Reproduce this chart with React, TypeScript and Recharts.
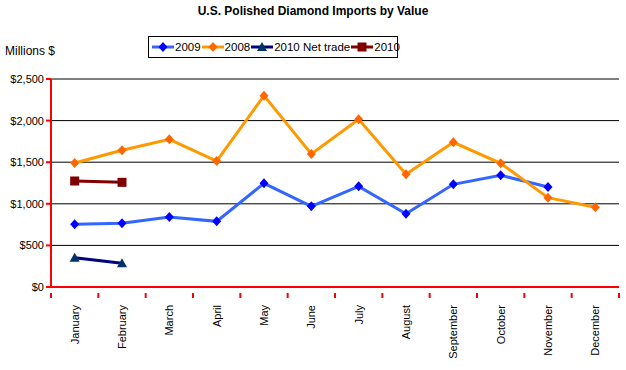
import React from "react";
import { LineChart, Line, XAxis, YAxis, CartesianGrid } from "recharts";

const months = [
  "January", "February", "March", "April", "May", "June",
  "July", "August", "September", "October", "November", "December",
];
const values2009 = [753, 765, 841, 789, 1246, 970, 1210, 881, 1234, 1342, 1202, null];
const values2008 = [1490, 1643, 1775, 1514, 2300, 1599, 2015, 1354, 1739, 1487, 1074, 958];
const netTrade2010 = [352, 285, null, null, null, null, null, null, null, null, null, null];
const values2010 = [1274, 1258, null, null, null, null, null, null, null, null, null, null];
const yTicks = [0, 500, 1000, 1500, 2000, 2500];

const rows = months.map((m, i) => ({
  month: m,
  y2009: values2009[i],
  y2008: values2008[i],
  net2010: netTrade2010[i],
  y2010: values2010[i],
}));

const FONT = "Arial, 'Liberation Sans', sans-serif";
const PLOT_LEFT = 51;
const PLOT_RIGHT = 619;
const BAND = (PLOT_RIGHT - PLOT_LEFT) / months.length;

// marker shapes
function Diamond({ cx, cy, fill }: any) {
  if (cx == null || cy == null) return null;
  return <path d={`M${cx},${cy - 5}L${cx + 4.5},${cy}L${cx},${cy + 5}L${cx - 4.5},${cy}Z`} fill={fill} />;
}
function Square({ cx, cy, fill }: any) {
  if (cx == null || cy == null) return null;
  return <rect x={cx - 4.5} y={cy - 4.5} width={9} height={9} fill={fill} />;
}
function Triangle({ cx, cy, fill }: any) {
  if (cx == null || cy == null) return null;
  return <path d={`M${cx},${cy - 5}L${cx + 5},${cy + 4}L${cx - 5},${cy + 4}Z`} fill={fill} />;
}

function MonthTick({ x, y, payload, index }: any) {
  return (
    <g>
      {index === 0 && <line x1={x - BAND / 2} x2={x - BAND / 2} y1={y - 2} y2={y + 3} stroke="#ff0000" strokeWidth={2} />}
      <line x1={x + BAND / 2} x2={x + BAND / 2} y1={y - 2} y2={y + 3} stroke="#ff0000" strokeWidth={2} />
      <text
        x={x}
        y={y + 10}
        transform={`rotate(-90, ${x}, ${y + 10})`}
        textAnchor="end"
        dy="0.35em"
        fontSize={11}
        fontFamily={FONT}
        fill="#000"
      >
        {payload.value}
      </text>
    </g>
  );
}

const legendItems = [
  { label: "2009", line: "#3366ff", mark: "#0000ff", shape: "diamond" },
  { label: "2008", line: "#ff9900", mark: "#ff6600", shape: "diamond" },
  { label: "2010 Net trade", line: "#000080", mark: "#003366", shape: "triangle" },
  { label: "2010", line: "#800000", mark: "#800000", shape: "square" },
];

function LegendBox() {
  return (
    <div
      style={{
        position: "absolute",
        left: 148,
        top: 36,
        width: 245,
        height: 20,
        border: "1px solid #000",
        display: "flex",
        alignItems: "center",
        paddingLeft: 3,
        fontFamily: FONT,
        fontSize: 11.5,
        whiteSpace: "nowrap",
        background: "#fff",
        boxSizing: "content-box",
      }}
    >
      {legendItems.map((it) => (
        <div key={it.label} style={{ display: "flex", alignItems: "center", flexShrink: 0, marginRight: 1 }}>
          <svg width={22} height={12}>
            <line x1={0} x2={22} y1={6} y2={6} stroke={it.line} strokeWidth={3} />
            {it.shape === "diamond" && <Diamond cx={11} cy={6} fill={it.mark} />}
            {it.shape === "triangle" && <Triangle cx={11} cy={6} fill={it.mark} />}
            {it.shape === "square" && <Square cx={11} cy={6} fill={it.mark} />}
          </svg>
          <span style={{ marginLeft: 1 }}>{it.label}</span>
        </div>
      ))}
    </div>
  );
}

export default function App() {
  return (
    <div style={{ position: "relative", width: 626, height: 370, background: "#fff" }}>
      <style>{`body{margin:0}`}</style>
      <div
        style={{
          position: "absolute",
          top: 4,
          left: 0,
          width: 626,
          textAlign: "center",
          fontFamily: FONT,
          fontSize: 12,
          fontWeight: "bold",
        }}
      >
        U.S. Polished Diamond Imports by Value
      </div>
      <div style={{ position: "absolute", top: 44, left: 5, fontFamily: FONT, fontSize: 12 }}>Millions $</div>
      <LegendBox />
      <LineChart
        width={626}
        height={370}
        data={rows}
        margin={{ top: 79, right: 626 - PLOT_RIGHT, bottom: 0, left: 0 }}
      >
        <CartesianGrid horizontal vertical={false} stroke="#000" strokeWidth={1} />
        <XAxis
          dataKey="month"
          scale="band"
          interval={0}
          height={83}
          axisLine={{ stroke: "#ff0000", strokeWidth: 2 }}
          tickLine={false}
          tick={<MonthTick />}
        />
        <YAxis
          width={PLOT_LEFT}
          domain={[0, 2500]}
          ticks={yTicks}
          interval={0}
          axisLine={{ stroke: "#ff0000", strokeWidth: 2 }}
          tickLine={{ stroke: "#ff0000", strokeWidth: 2 }}
          tickSize={5}
          tickFormatter={(v: number) => `$${v.toLocaleString("en-US")}`}
          tick={{ fontSize: 11, fontFamily: FONT, fill: "#000" }}
        />
        <Line dataKey="y2009" stroke="#3366ff" strokeWidth={3} dot={<Diamond fill="#0000ff" />} isAnimationActive={false} />
        <Line dataKey="y2008" stroke="#ff9900" strokeWidth={3} dot={<Diamond fill="#ff6600" />} isAnimationActive={false} />
        <Line dataKey="net2010" stroke="#000080" strokeWidth={3} dot={<Triangle fill="#003366" />} isAnimationActive={false} />
        <Line dataKey="y2010" stroke="#800000" strokeWidth={3} dot={<Square fill="#800000" />} isAnimationActive={false} />
      </LineChart>
    </div>
  );
}
